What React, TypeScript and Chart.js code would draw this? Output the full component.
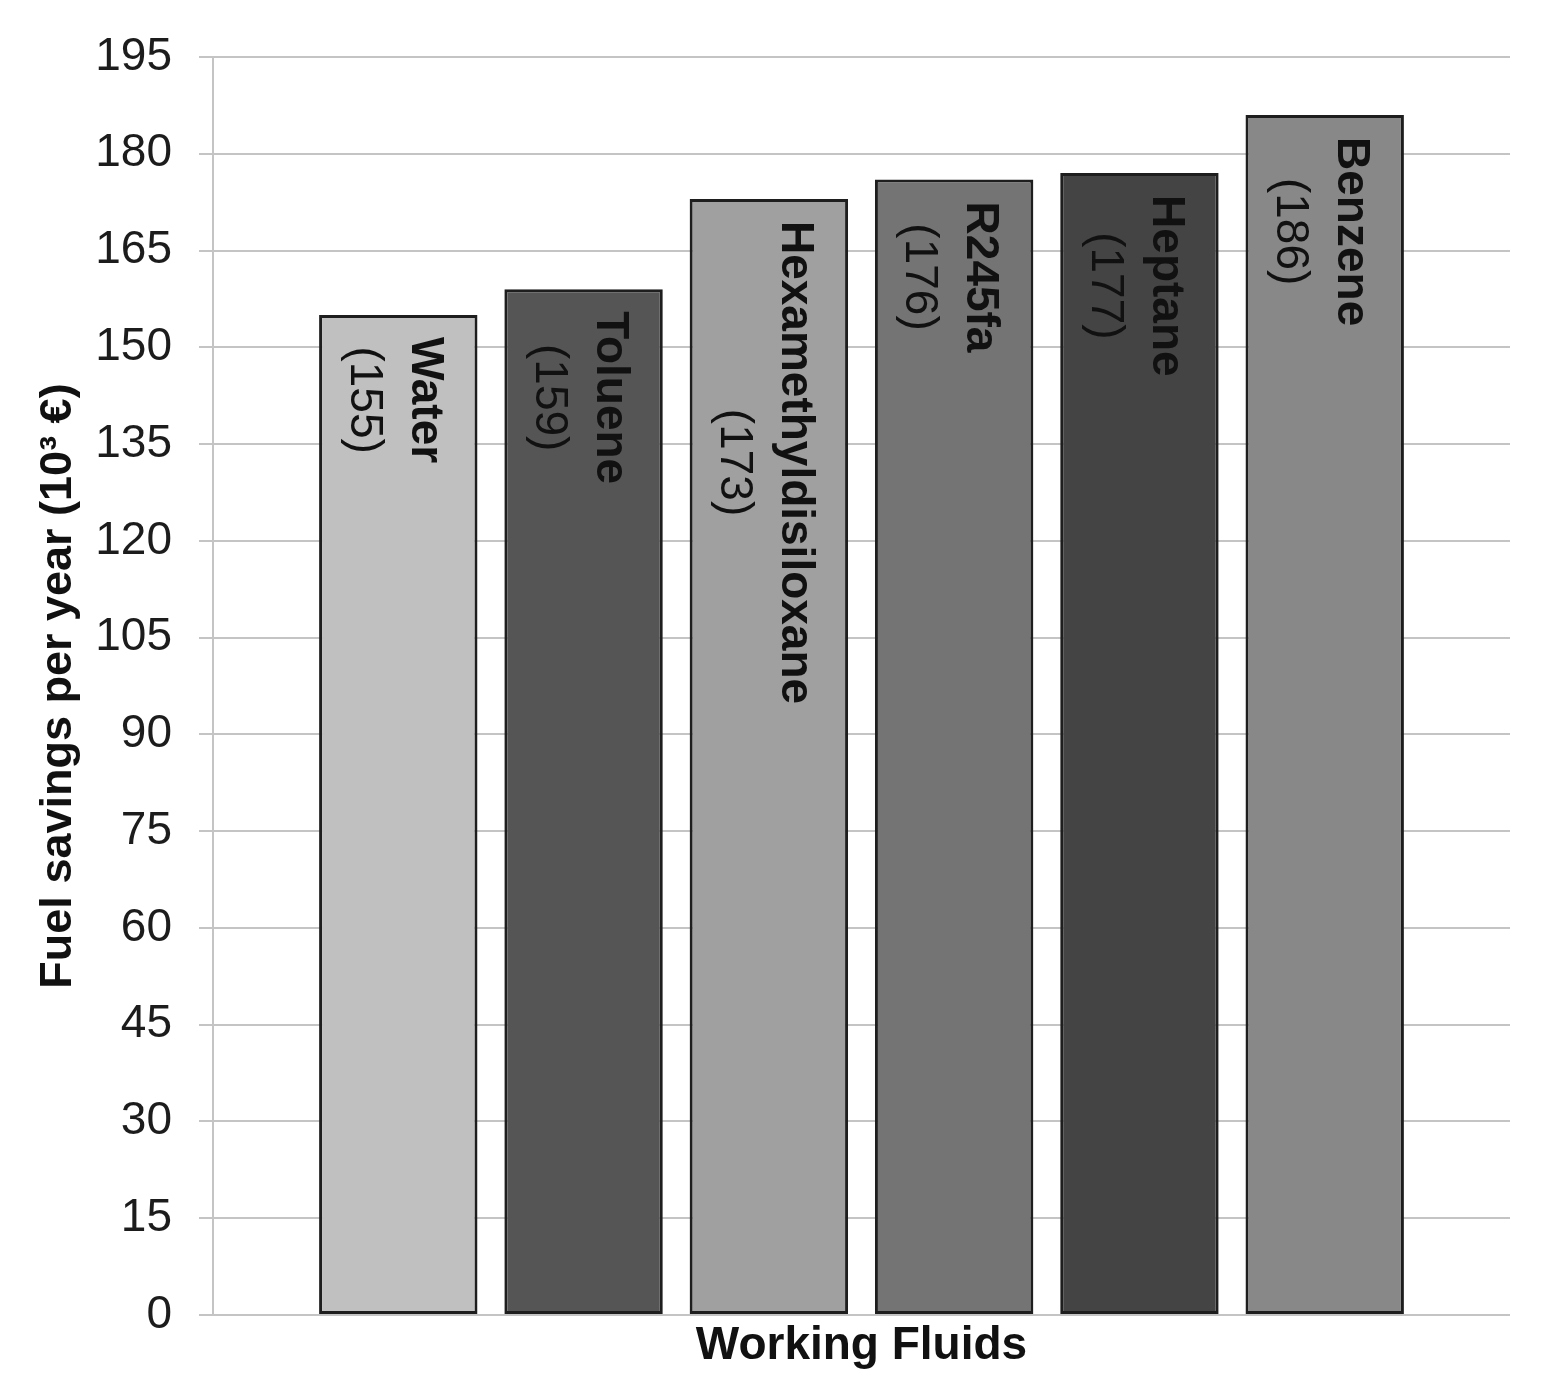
import { useEffect, useRef } from "react"
import { Chart, registerables } from "chart.js"

Chart.register(...registerables)

const fluids = ["Water", "Toluene", "Hexamethyldisiloxane", "R245fa", "Heptane", "Benzene"]
const savings = [155, 159, 173, 176, 177, 186]
const barColors = ["#c0c0c0", "#555555", "#a0a0a0", "#747474", "#444444", "#888888"]
const positions = [1, 2, 3, 4, 5, 6]

const FONT = "'Liberation Sans', Arial, sans-serif"

// rotated two-line label inside the top of each bar
const insideLabels = {
  id: "insideLabels",
  afterDatasetsDraw(chart: Chart) {
    const ctx = chart.ctx
    const meta = chart.getDatasetMeta(0)
    meta.data.forEach((bar: any, i: number) => {
      const name = fluids[i]
      const value = "(" + savings[i] + ")"
      const bold = "bold 46px " + FONT
      const normal = "46px " + FONT
      ctx.save()
      ctx.font = bold
      const w1 = ctx.measureText(name).width
      ctx.font = normal
      const w2 = ctx.measureText(value).width
      const mid = 22 + Math.max(w1, w2) / 2
      ctx.translate(bar.x, bar.y)
      ctx.rotate(Math.PI / 2)
      ctx.fillStyle = "#111111"
      ctx.textAlign = "center"
      ctx.textBaseline = "middle"
      ctx.font = bold
      ctx.fillText(name, mid, -26)
      ctx.font = normal
      ctx.fillText(value, mid, 35)
      ctx.restore()
    })
  },
}

export default function App() {
  const chartRef = useRef<HTMLCanvasElement>(null)
  const chartInstance = useRef<Chart | null>(null)

  useEffect(() => {
    if (!chartRef.current) return
    if (chartInstance.current) {
      chartInstance.current.destroy()
    }
    const ctx = chartRef.current.getContext("2d")
    if (!ctx) return

    chartInstance.current = new Chart(ctx, {
      type: "bar",
      data: {
        datasets: [
          {
            data: positions.map((x, i) => ({ x, y: savings[i] })),
            backgroundColor: barColors,
            borderColor: "#1e1e1e",
            borderWidth: 3,
            borderSkipped: false,
            barPercentage: 0.855,
            categoryPercentage: 1,
          },
        ],
      },
      options: {
        animation: false,
        responsive: true,
        maintainAspectRatio: false,
        layout: { padding: { top: 57, right: 39, left: 0, bottom: 0 } },
        plugins: {
          legend: { display: false },
          tooltip: { enabled: false },
        },
        scales: {
          x: {
            type: "linear",
            min: 0,
            max: 7,
            offset: false,
            ticks: { display: false, stepSize: 1 },
            grid: { display: false },
            border: { display: false },
            title: {
              display: true,
              text: "Working Fluids",
              color: "#111111",
              font: { family: FONT, size: 46, weight: "bold" },
              padding: { top: 0, bottom: 24 },
            },
            afterFit(scale: any) {
              scale.height = 83
            },
          },
          y: {
            min: 0,
            max: 195,
            ticks: {
              stepSize: 15,
              padding: 27,
              color: "#1c1c1c",
              font: { family: FONT, size: 46 },
            },
            grid: { color: "#c4c4c4", lineWidth: 2, tickLength: 14 },
            border: { color: "#c4c4c4", width: 2 },
            title: {
              display: true,
              text: "Fuel savings per year (10³ €)",
              color: "#111111",
              font: { family: FONT, size: 45, weight: "bold" },
              padding: { top: 32, bottom: 0 },
            },
            afterFit(scale: any) {
              scale.width = 213
            },
          },
        },
      },
      plugins: [insideLabels],
    })

    return () => {
      if (chartInstance.current) {
        chartInstance.current.destroy()
        chartInstance.current = null
      }
    }
  }, [])

  return (
    <div style={{ position: "absolute", left: 0, top: 0, width: 1549, height: 1398, background: "#fff" }}>
      <canvas ref={chartRef} />
    </div>
  )
}
